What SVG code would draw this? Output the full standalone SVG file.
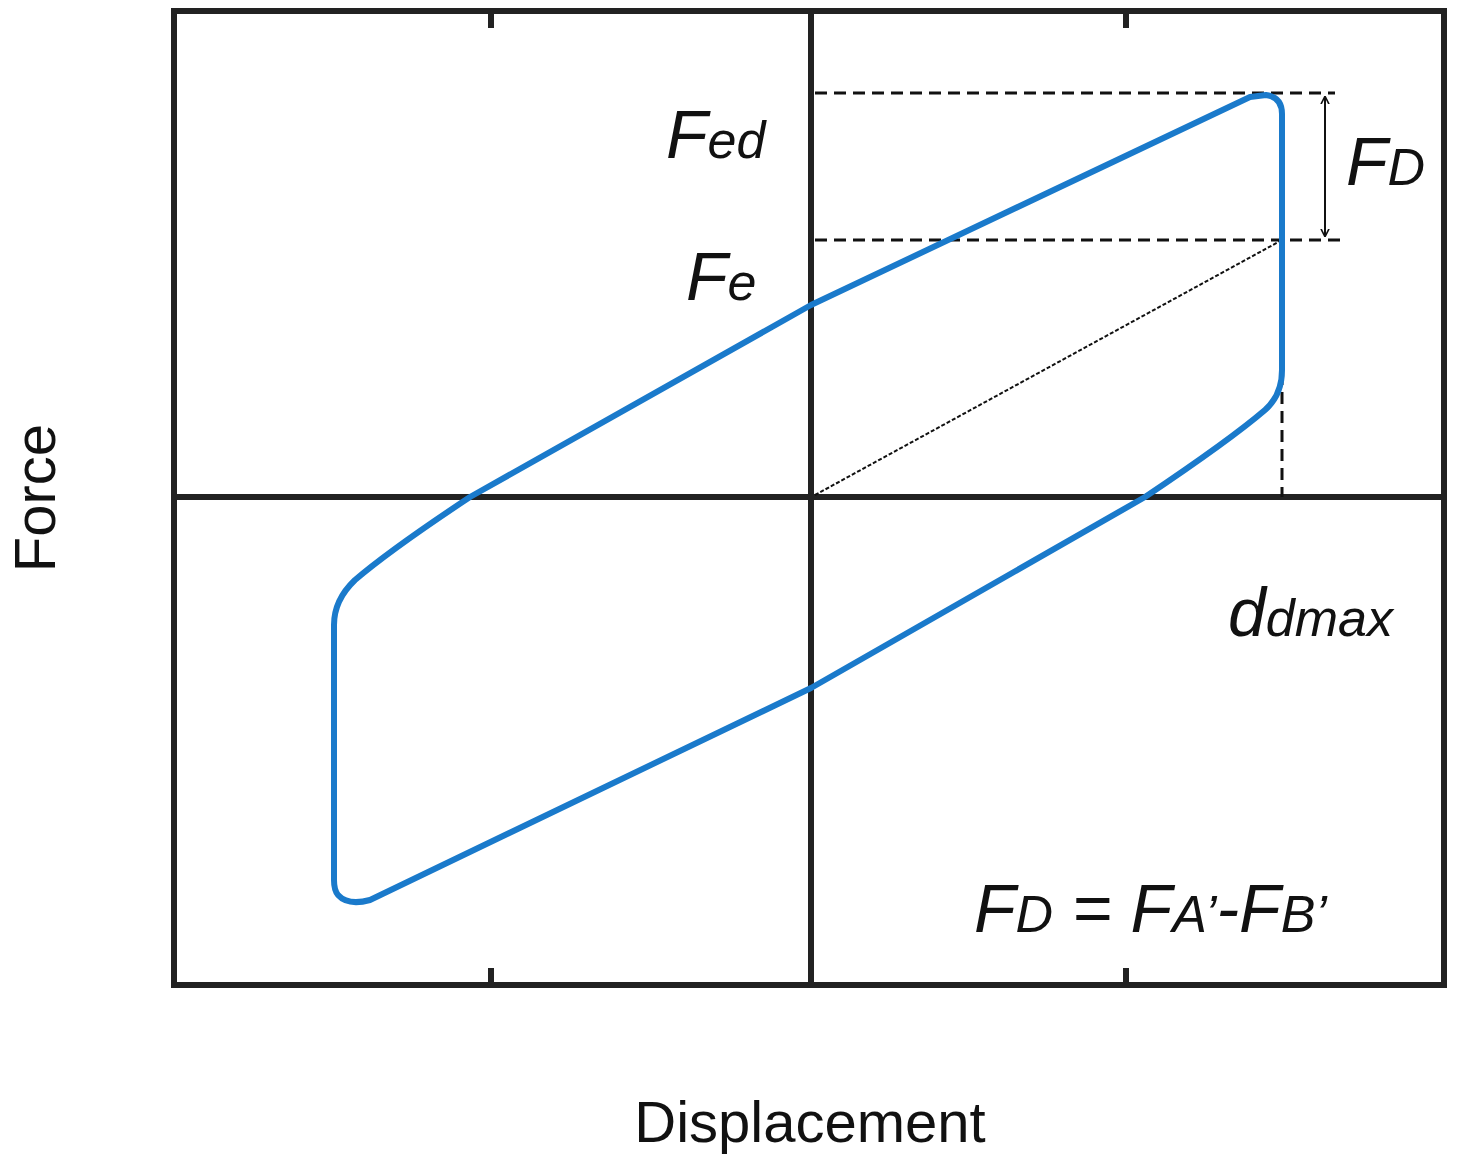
<svg xmlns="http://www.w3.org/2000/svg" width="1457" height="1168" viewBox="0 0 1457 1168">
<style>
.t{font-family:"Liberation Sans",Arial,sans-serif;fill:#111}
.i{font-style:italic}
.d{stroke:#111;stroke-width:3;stroke-dasharray:12,7;fill:none}
</style>
<defs><marker id="a" viewBox="0 0 10 10" refX="9" refY="5" markerWidth="8" markerHeight="10" orient="auto-start-reverse" markerUnits="userSpaceOnUse"><path d="M0,0 L10,5 L0,10" fill="none" stroke="#111" stroke-width="2"/></marker></defs>
<rect width="1457" height="1168" fill="#fff"/>
<g id="frame" stroke="#222" stroke-width="6" fill="none">
<rect x="174" y="11" width="1270" height="974"/>
<line x1="811" y1="11" x2="811" y2="985"/>
<line x1="174" y1="497" x2="1444" y2="497"/>
<path d="M491,14v14M1126,14v14M491,982v-14M1126,982v-14"/>
</g>
<g id="connectors">
<line class="d" x1="815" y1="93" x2="1335" y2="93"/>
<line class="d" x1="815" y1="240" x2="1345" y2="240"/>
<line class="d" x1="1282" y1="240" x2="1282" y2="497"/>
<line x1="815" y1="495" x2="1282" y2="240" stroke="#111" stroke-width="2" stroke-dasharray="4,2"/>
<line x1="1325" y1="97" x2="1325" y2="236" stroke="#111" stroke-width="2" marker-start="url(#a)" marker-end="url(#a)"/>
</g>
<g id="loop">
<path d="M1250,97 L1266,95 Q1282,97 1282,114 L1282,370 Q1282,395 1265,410 Q1230,440 1145,497 L811,688 L370,900 Q348,906 338,895 Q334,890 334,880 L334,625 Q334,600 355,580 Q390,550 470,497 L811,305 Z" fill="none" stroke="#1a7acb" stroke-width="6" stroke-linejoin="round"/>
</g>
<g id="labels">
<text class="t i" x="666" y="158" font-size="68">F<tspan font-size="52">ed</tspan></text>
<text class="t i" x="686" y="300" font-size="68">F<tspan font-size="52">e</tspan></text>
<text class="t i" x="1346" y="185" font-size="68">F<tspan font-size="52">D</tspan></text>
<text class="t i" x="1228" y="636" font-size="68">d<tspan font-size="52">dmax</tspan></text>
<text class="t i" x="974" y="932" font-size="68">F<tspan font-size="52">D</tspan> = F<tspan font-size="52">A’</tspan>-F<tspan font-size="52">B’</tspan></text>
<text class="t" x="810" y="1142" font-size="58" text-anchor="middle">Displacement</text>
<text class="t" transform="translate(55,498) rotate(-90)" font-size="58" text-anchor="middle">Force</text>
</g>
</svg>
